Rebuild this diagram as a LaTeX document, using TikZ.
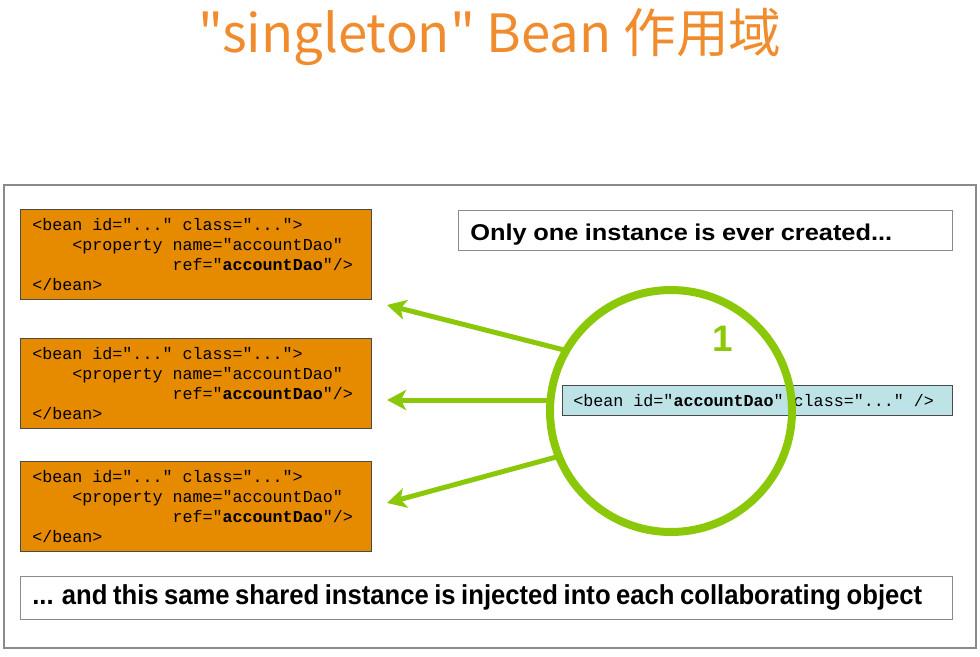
\documentclass[tikz,border=0pt]{standalone}
\usepackage{fontspec}
\setmainfont{Liberation Sans}
\setmonofont{Liberation Mono}
\newfontfamily\cjkfont{Noto Sans CJK SC}
\usepackage{graphicx}
\usetikzlibrary{arrows.meta,positioning}
\definecolor{BeanOrange}{HTML}{E68A00}
\definecolor{BeanTitle}{HTML}{F18C2E}
\definecolor{BeanGreen}{HTML}{8CC80A}
\definecolor{BeanBlue}{HTML}{BEE3E6}
\definecolor{BeanFrame}{HTML}{8A8A8A}
\definecolor{BeanEdge}{HTML}{4A4A4A}
\newcommand{\codefont}{\ttfamily\fontsize{9.5}{11.4}\selectfont}
\newcommand{\indentby}[1]{\hspace*{#1\fontcharwd\font`x}}
\newcommand{\ws}{\indentby{1}}
\newcommand{\propbean}{<bean\ws id="..."\ws class="...">\\
  \indentby{4}<property\ws name="accountDao"\\
  \indentby{14}ref="\textbf{accountDao}"/>\\
  </bean>}

\begin{document}
\begin{tikzpicture}[x=0.02cm,y=-0.02cm,
  cfgbox/.style={draw=BeanEdge,fill=BeanOrange,anchor=north west,inner xsep=0.24cm,
    text width=6.54cm,minimum height=1.81cm,align=left,font=\codefont},
  notebox/.style={draw=BeanFrame,fill=white,anchor=north west,inner xsep=0.24cm,align=left},
  feed/.style={BeanGreen,line width=0.1cm,-{Stealth[length=0.38cm,width=0.4cm,inset=0.1cm]}}]
  \useasboundingbox (0,0) rectangle (980,656);
  \node (title) at (490,37) {\cjkfont\fontsize{30}{36}\selectfont\color{BeanTitle}"singleton" Bean 作用域};
  \draw[BeanFrame,line width=0.03cm] (4,185) rectangle (976,648);
  % the three collaborating beans
  \node[cfgbox] (cfgA) at (20,209) {\propbean};
  \node[cfgbox] (cfgB) at (20,338) {\propbean};
  \node[cfgbox] (cfgC) at (20,461) {\propbean};
  % notes
  \node[notebox,text width=9.4cm,minimum height=0.8cm] (topnote) at (458,210)
    {\raisebox{-2.3pt}[\height][\depth]{\resizebox{8.44cm}{\height}{\fontsize{13}{16}\selectfont\bfseries Only one instance is ever created...}}};
  \node[notebox,text width=18.16cm,minimum height=0.86cm] (bottomnote) at (20,576)
    {\resizebox{17.8cm}{\height}{\fontsize{15.6}{18}\selectfont\bfseries ... and this same shared instance is injected into each collaborating object}};
  % the shared bean
  \node[draw=BeanEdge,fill=BeanBlue,anchor=north west,inner xsep=0.22cm,text width=7.36cm,
    minimum height=0.6cm,align=left,font=\codefont]
    (shared) at (562,385) {<bean\ws id="\textbf{accountDao}"\ws class="..."\ws/>};
  \node[draw=BeanGreen,line width=0.16cm,circle,minimum size=4.84cm,outer sep=0pt] (ring) at (671,411) {};
  \node[BeanGreen,font=\bfseries\fontsize{21}{24}\selectfont] (count) at (723,339) {1};
  \coordinate (tipA) at (387,305);
  \coordinate (tipB) at (387,400);
  \coordinate (tipC) at (387,503);
  \draw[feed] (ring.150) -- (tipA);
  \draw[feed] (tipB -| ring.west) -- (tipB);
  \draw[feed] (ring.202) -- (tipC);
\end{tikzpicture}
\end{document}
